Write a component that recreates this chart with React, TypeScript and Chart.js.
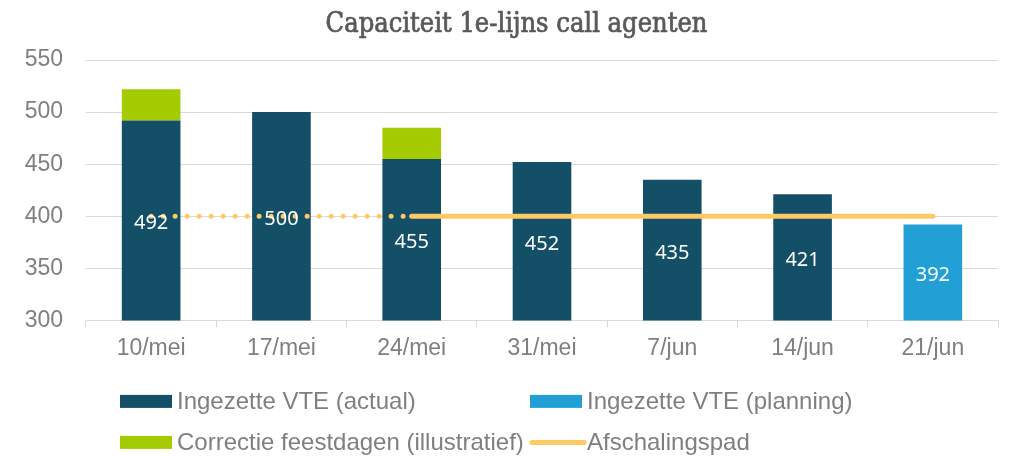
import React, { useEffect, useRef } from "react";
import { Chart, registerables } from "chart.js";

Chart.register(...registerables);

const chartTitle = "Capaciteit 1e-lijns call agenten";
const categories = ["10/mei", "17/mei", "24/mei", "31/mei", "7/jun", "14/jun", "21/jun"];
const actualValues = [492, 500, 455, 452, 435, 421, null];
const planningValues = [null, null, null, null, null, null, 392];
const correctionValues = [30, null, 30, null, null, null, null];
const pathValues = [400, 400, 400, 400, 400, 400, 400];
const dottedUntilIndex = 2;

const C_ACTUAL = "#134F66";
const C_PLAN = "#22A0D6";
const C_CORR = "#A3CB00";
const C_PATH = "#FFC965";
const C_TEXT = "#7F7F7F";
const C_GRID = "#D9D9D9";

const titlePlugin = {
  id: "customTitle",
  afterDraw(chart: any) {
    const ctx = chart.ctx;
    ctx.save();
    ctx.fillStyle = "#595959";
    ctx.strokeStyle = "#595959";
    ctx.lineWidth = 0.7;
    ctx.font = "27px 'DejaVu Serif Condensed', 'DejaVu Serif'";
    ctx.textAlign = "center";
    ctx.textBaseline = "middle";
    const x = chart.width / 2 + 10;
    ctx.fillText(chartTitle, x, 25);
    ctx.strokeText(chartTitle, x, 25);
    ctx.restore();
  },
};

const dataLabelPlugin = {
  id: "dataLabels",
  afterDatasetsDraw(chart: any) {
    const ctx = chart.ctx;
    const area = chart.chartArea;
    ctx.save();
    ctx.fillStyle = "#FFFFFF";
    ctx.font = "20px 'Noto Sans'";
    ctx.textAlign = "center";
    ctx.textBaseline = "middle";
    [0, 1].forEach((di) => {
      const meta = chart.getDatasetMeta(di);
      const ds = chart.data.datasets[di];
      meta.data.forEach((el: any, i: number) => {
        const v = ds.data[i];
        if (v === null || v === undefined) return;
        const base = Math.min(el.base, area.bottom);
        const top = Math.max(el.y, area.top);
        ctx.fillText(String(v), el.x, (base + top) / 2 + 3);
      });
    });
    ctx.restore();
  },
};

const legendPlugin = {
  id: "gridLegend",
  afterDraw(chart: any) {
    const ctx = chart.ctx;
    const area = chart.chartArea;
    const colX = [area.left + 34, area.left + 444];
    const rowY = [area.bottom + 81, area.bottom + 122];
    ctx.save();
    ctx.font = "24px 'Liberation Sans'";
    ctx.textBaseline = "middle";
    ctx.textAlign = "left";
    chart.data.datasets.forEach((ds: any, i: number) => {
      const x = colX[i % 2];
      const y = rowY[Math.floor(i / 2)];
      if (ds.type === "line") {
        ctx.strokeStyle = ds.borderColor;
        ctx.lineWidth = 5;
        ctx.lineCap = "round";
        ctx.beginPath();
        ctx.moveTo(x + 2, y);
        ctx.lineTo(x + 54, y);
        ctx.stroke();
      } else {
        ctx.fillStyle = ds.backgroundColor;
        ctx.fillRect(x, y - 6.5, 52, 13);
      }
      ctx.fillStyle = C_TEXT;
      ctx.fillText(ds.label, x + 57, y + 1);
    });
    ctx.restore();
  },
};

export default function App() {
  const ref = useRef<HTMLCanvasElement | null>(null);
  useEffect(() => {
    document.body.style.margin = "0";
    const canvas = ref.current;
    if (!canvas) return;
    const chart = new Chart(canvas, {
      type: "bar",
      data: {
        labels: categories,
        datasets: [
          {
            type: "bar",
            label: "Ingezette VTE (actual)",
            data: actualValues,
            backgroundColor: C_ACTUAL,
            stack: "vte",
            order: 1,
            barPercentage: 0.45,
            categoryPercentage: 1,
          },
          {
            type: "bar",
            label: "Ingezette VTE (planning)",
            data: planningValues,
            backgroundColor: C_PLAN,
            stack: "vte",
            order: 1,
            barPercentage: 0.45,
            categoryPercentage: 1,
          },
          {
            type: "bar",
            label: "Correctie feestdagen (illustratief)",
            data: correctionValues,
            backgroundColor: C_CORR,
            stack: "vte",
            order: 1,
            barPercentage: 0.45,
            categoryPercentage: 1,
          },
          {
            type: "line",
            label: "Afschalingspad",
            data: pathValues,
            borderColor: C_PATH,
            backgroundColor: C_PATH,
            borderWidth: 5,
            borderCapStyle: "round",
            pointRadius: 0,
            pointHoverRadius: 0,
            stack: "pad",
            order: 0,
            segment: {
              borderDash: (c: any) => (c.p0DataIndex < dottedUntilIndex ? [0, 12] : []),
            },
          } as any,
        ],
      },
      options: {
        responsive: false,
        animation: false,
        layout: { padding: { left: 0, right: 15, top: 60, bottom: 87 } },
        plugins: {
          legend: { display: false },
          tooltip: { enabled: false },
          title: { display: false },
        },
        scales: {
          x: {
            stacked: true,
            offset: true,
            grid: { offset: true, drawOnChartArea: false, drawTicks: true, tickLength: 7, color: C_GRID },
            border: { display: true, color: C_GRID, width: 1 },
            ticks: { color: C_TEXT, font: { family: "'Liberation Sans'", size: 23 }, padding: 7 },
          },
          y: {
            stacked: true,
            min: 300,
            max: 550,
            afterFit: (s: any) => {
              s.width = 86;
            },
            grid: { color: C_GRID, drawTicks: false },
            border: { display: false },
            ticks: { stepSize: 50, color: C_TEXT, font: { family: "'Liberation Sans'", size: 23 }, padding: 23 },
          },
        },
      },
      plugins: [dataLabelPlugin, legendPlugin, titlePlugin],
    });
    return () => chart.destroy();
  }, []);
  return (
    <div style={{ width: 1013, height: 456, background: "#fff" }}>
      <canvas ref={ref} width={1013} height={456} style={{ display: "block" }} />
    </div>
  );
}
